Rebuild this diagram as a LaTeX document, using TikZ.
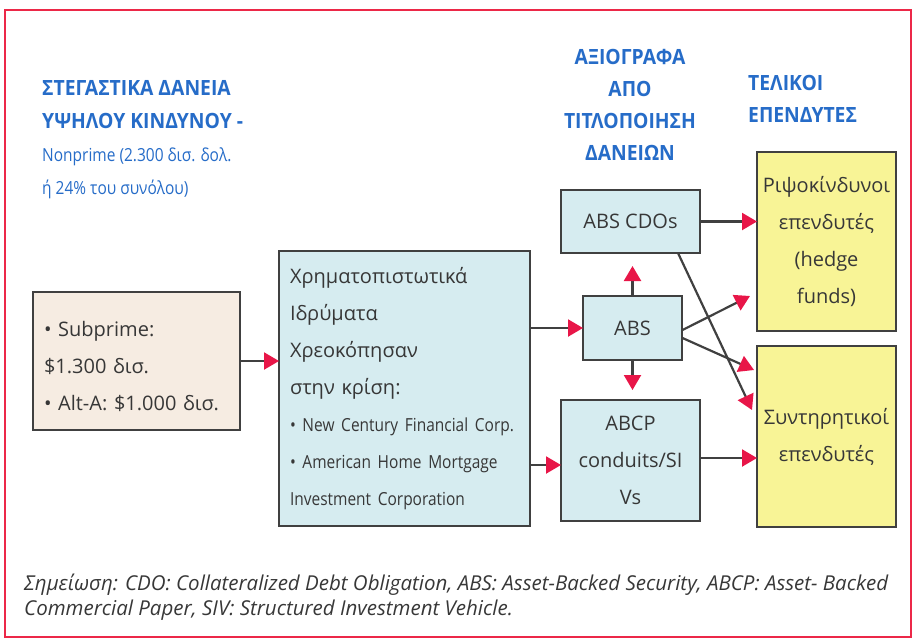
\documentclass[tikz,border=0pt]{standalone}
\usepackage{fontspec}
\setmainfont{Open Sans}
\newfontfamily\condfont[FakeStretch=0.86]{Open Sans}
\newfontfamily\headfont[FakeStretch=0.92]{Open Sans}
\usetikzlibrary{arrows.meta}
\definecolor{framered}{RGB}{236,40,72}
\definecolor{headblue}{RGB}{38,108,200}
\definecolor{textgray}{RGB}{55,55,55}
\definecolor{beigefill}{RGB}{246,236,226}
\definecolor{bluefill}{RGB}{214,236,240}
\definecolor{yellowfill}{RGB}{248,244,150}
\definecolor{arrowred}{RGB}{232,22,72}
\definecolor{linegray}{RGB}{64,64,64}
\tikzset{
  boxstyle/.style={draw=linegray, line width=1.3pt, text=textgray, inner sep=0pt, outer sep=0pt},
  bigtxt/.style={font=\fontsize{20}{37}\selectfont},
  headtxt/.style={font=\headfont\bfseries\fontsize{21}{32}\selectfont, text=headblue, inner sep=0pt},
  flow/.style={draw=linegray, line width=2.2pt, -{Triangle[color=arrowred, length=15pt, width=17pt]}},
}
\begin{document}
\begin{tikzpicture}[x=1pt,y=-1pt]
\useasboundingbox (0,0) rectangle (913,641);
\draw[framered, line width=2pt] (5,10) rectangle (911,637);
% headers
\node[headtxt, anchor=north west, align=left, font=\headfont\bfseries\fontsize{21}{33}\selectfont] (h1) at (42,80)
  {ΣΤΕΓΑΣΤΙΚΑ ΔΑΝΕΙΑ\\ΥΨΗΛΟΥ ΚΙΝΔΥΝΟΥ -\\{\condfont\mdseries\fontsize{18}{33}\selectfont Nonprime (2.300 δισ. δολ.}\\{\condfont\mdseries\fontsize{18}{33}\selectfont ή 24\% του συνόλου)}};
\node[headtxt, anchor=north, align=center] (h2) at (630,49)
  {ΑΞΙΟΓΡΑΦΑ\\ΑΠΟ\\ΤΙΤΛΟΠΟΙΗΣΗ\\ΔΑΝΕΙΩΝ};
\node[headtxt, anchor=north west, align=left] (h3) at (748,75)
  {ΤΕΛΙΚΟΙ\\ΕΠΕΝΔΥΤΕΣ};
% boxes
\node[boxstyle, bigtxt, fill=beigefill, minimum width=207pt, minimum height=138pt,
  text width=185pt, align=left] (loans) at (136.5,361)
  {\rule{0pt}{27pt}• Subprime:\\\$1.300 δισ.\\• Alt-A: \$1.000 δισ.};
\node[boxstyle, bigtxt, fill=bluefill, minimum width=251pt, minimum height=275pt,
  text width=229pt, align=left] (banks) at (404.5,388.5)
  {Χρηματοπιστωτικά\\Ιδρύματα\\Χρεοκόπησαν\\στην κρίση:\\{\condfont\fontsize{18}{37}\selectfont • New Century Financial Corp.}\\{\condfont\fontsize{18}{37}\selectfont • American Home Mortgage}\\{\condfont\fontsize{18}{37}\selectfont Investment Corporation}};
\node[boxstyle, bigtxt, fill=bluefill, minimum width=139pt, minimum height=63pt, align=center] (cdo) at (630.5,221.5) {ABS CDOs};
\node[boxstyle, bigtxt, fill=bluefill, minimum width=99pt, minimum height=64pt, align=center] (abs) at (632.5,328) {ABS};
\node[boxstyle, bigtxt, fill=bluefill, minimum width=139pt, minimum height=121pt, align=center] (abcp) at (630.5,460.5) {ABCP\\conduits/SI\\Vs};
\node[boxstyle, bigtxt, fill=yellowfill, minimum width=139pt, minimum height=179pt, align=center] (risky) at (826.5,241.5) {Ριψοκίνδυνοι\\επενδυτές\\(hedge\\funds)};
\node[boxstyle, bigtxt, fill=yellowfill, minimum width=139pt, minimum height=181pt, align=center] (cons) at (826.5,436.5) {Συντηρητικοί\\επενδυτές};
% connectors
\coordinate (absup) at (632.5,266);
\coordinate (absdn) at (632.5,390);
\draw[flow] (loans.east) -- (banks.west |- loans.east);
\draw[flow] (banks.east |- abs.west) -- (abs.west);
\draw[flow] (banks.east |- 0,465) -- (abcp.west |- 0,465);
\draw[flow] (abs.north) -- (absup);
\draw[flow] (abs.south) -- (absdn);
\draw[flow] (cdo.east) -- (risky.west |- cdo.east);
\draw[flow] (abcp.east |- 0,458) -- (cons.west |- 0,458);
\draw[flow] (682.5,330) -- (750,296);
\draw[flow] (682.5,338) -- (754,370);
\draw[flow] (cdo.south -| 678,0) -- (752,410);
% note
\node[font=\itshape\fontsize{20.5}{25}\selectfont, text=textgray, anchor=north west, align=left, inner sep=0pt] (note) at (24,574)
  {Σημείωση: CDO: Collateralized Debt Obligation, ABS: Asset-Backed Security, ABCP: Asset- Backed\\Commercial Paper, SIV: Structured Investment Vehicle.};
\end{tikzpicture}
\end{document}
